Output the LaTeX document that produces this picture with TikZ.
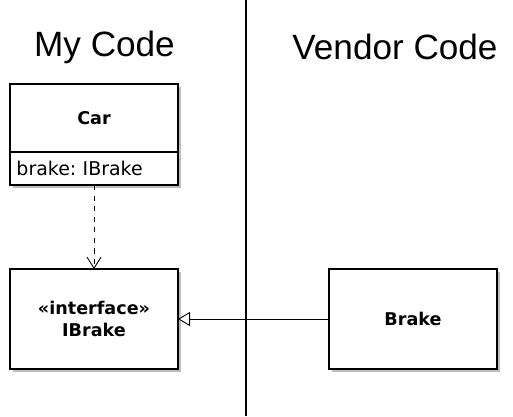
\documentclass[tikz,border=0pt]{standalone}
\usepackage{fontspec}
\setmainfont{Liberation Sans}
\newfontfamily\umlfont{DejaVu Sans}
\usetikzlibrary{positioning}
\usetikzlibrary{arrows.meta}
\usetikzlibrary{shadows}
\definecolor{shadowgray}{RGB}{190,190,190}
\tikzset {
  node distance={0cm},
  % side headings
  heading/.style = {font=\fontsize{20}{24}\selectfont},
  % uml class boxes
  umlbox/.style = {draw, line width=0.8pt, fill=white, inner sep=0pt, outer sep=0pt,
    minimum width=3.36cm, font=\umlfont\fontsize{10}{12.5}\selectfont,
    drop shadow={shadow xshift=0.06cm, shadow yshift=-0.06cm, fill=shadowgray, opacity=1}},
  % bold class names
  classname/.style = {umlbox, font=\umlfont\bfseries\fontsize{10}{12.5}\selectfont},
  % attribute compartment
  attr/.style = {umlbox, minimum height=0.66cm, text width=3.1cm, align=left,
    font=\umlfont\fontsize{10.8}{13}\selectfont\frenchspacing},
  % dependency and realization
  uses/.style={dashed, line width=0.5pt, -{Straight Barb[length=2.2mm, width=2.8mm]}},
  realizes/.style={line width=0.5pt, -{Triangle[open, length=2.4mm, width=2.8mm, fill=white]}},
}

\begin{document}
\begin{tikzpicture}
  \useasboundingbox (0,0) rectangle (10.26,-8.32);

  \node[heading] (mycode) at (2.09,-0.94) {My Code};
  \node[heading] (vendor) at (7.9,-0.94) {Vendor Code};

  \coordinate (divtop) at (4.92,0);
  \coordinate (divbot) at (4.92,-8.32);
  \draw [line width=1.1pt] (divtop) -- (divbot);

  \node[classname, minimum height=1.36cm] (car) at (1.88,-2.36) {Car};
  \node[attr] (carattr) [below=of car] {brake: IBrake};

  \node[classname, minimum height=2cm, align=center] (ibrake) at (1.88,-6.38) {«interface»\\IBrake};
  \node[classname, minimum height=2cm] (brake) at (8.26,-6.38) {Brake};

  \draw [uses] (carattr) -- (ibrake);
  \draw [realizes] (brake) -- (ibrake);
\end{tikzpicture}
\end{document}
